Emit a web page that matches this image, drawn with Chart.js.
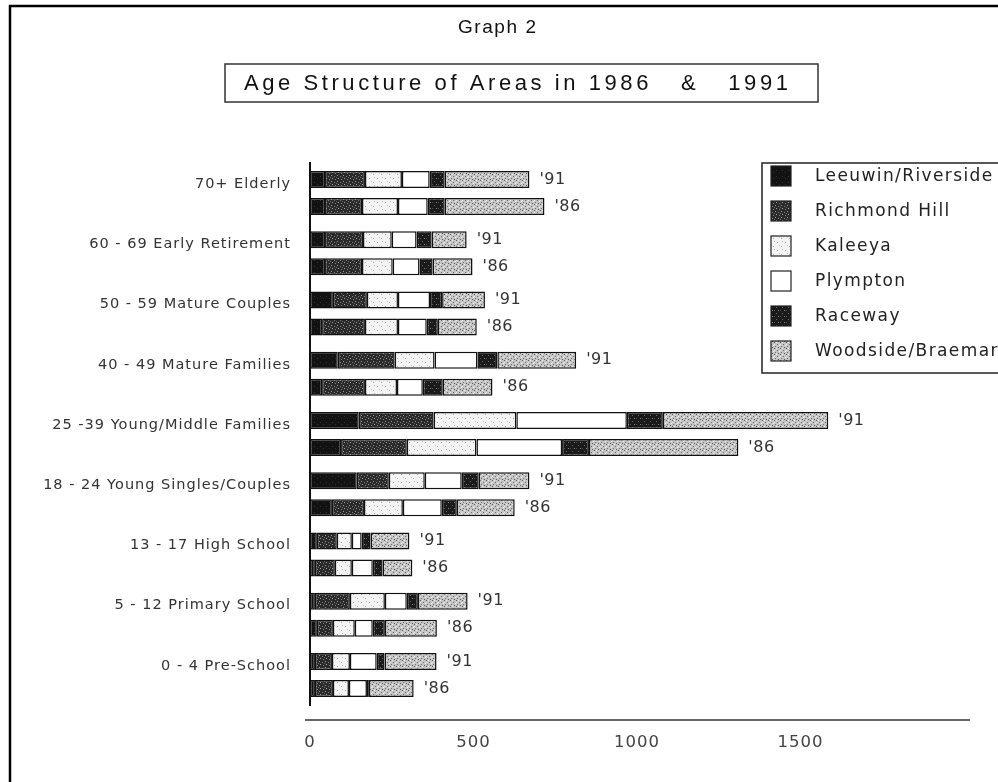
<!DOCTYPE html>
<html><head><meta charset="utf-8">
<script src="https://cdn.jsdelivr.net/npm/chart.js@4.4.1/dist/chart.umd.min.js"></script>
<style>html,body{margin:0;padding:0;background:#fff;}#wrap{width:998px;height:782px;position:relative;}canvas{display:block;}</style>
</head><body><div id="wrap"><canvas id="c" width="998" height="782"></canvas></div>
<script>
// ---- data ----
const categories = ['70+ Elderly', '60 - 69 Early Retirement', '50 - 59 Mature Couples', '40 - 49 Mature Families', '25 -39 Young/Middle Families', '18 - 24 Young Singles/Couples', '13 - 17 High School', '5 - 12 Primary School', '0 - 4 Pre-School'];
const areas = ['Leeuwin/Riverside', 'Richmond Hill', 'Kaleeya', 'Plympton', 'Raceway', 'Woodside/Braemar'];
const yearLabels = ["'91", "'86"];
const xTicks = [0, 500, 1000, 1500];

const leeuwin91  = [46, 46, 70, 85, 149, 143, 21, 15, 15];
const richmond91 = [122, 116, 104, 174, 229, 98, 61, 107, 52];
const kaleeya91  = [113, 88, 95, 122, 253, 110, 46, 107, 55];
const plympton91 = [85, 76, 98, 131, 338, 113, 30, 67, 82];
const raceway91  = [46, 46, 37, 61, 110, 52, 27, 34, 24];
const woodside91 = [259, 107, 131, 241, 506, 155, 119, 152, 159];

const leeuwin86  = [46, 46, 37, 37, 95, 67, 15, 21, 15];
const richmond86 = [113, 113, 131, 131, 201, 98, 61, 49, 55];
const kaleeya86  = [110, 94, 101, 98, 213, 119, 52, 67, 49];
const plympton86 = [91, 82, 88, 79, 262, 119, 64, 55, 55];
const raceway86  = [52, 40, 34, 61, 82, 46, 30, 37, 6];
const woodside86 = [305, 122, 119, 152, 457, 177, 91, 159, 137];

const series91 = [leeuwin91, richmond91, kaleeya91, plympton91, raceway91, woodside91];
const series86 = [leeuwin86, richmond86, kaleeya86, plympton86, raceway86, woodside86];

// ---- fill textures ----
function makePattern(size, base, dots) {
  const c = document.createElement('canvas'); c.width = size; c.height = size;
  const g = c.getContext('2d'); g.fillStyle = base; g.fillRect(0, 0, size, size);
  dots.forEach(d => { g.fillStyle = d[2]; g.fillRect(d[0], d[1], 1, 1); });
  return document.getElementById('c').getContext('2d').createPattern(c, 'repeat');
}
const fills = [
  makePattern(6, '#121212', [[2,2,'#333'],[5,4,'#2c2c2c']]),
  makePattern(6, '#2a2a2a', [[1,1,'#9a9a9a'],[4,2,'#808080'],[2,4,'#a8a8a8'],[5,5,'#858585'],[0,3,'#6a6a6a']]),
  makePattern(8, '#f3f3f3', [[1,2,'#9a9a9a'],[5,6,'#aaaaaa'],[6,1,'#b5b5b5'],[3,5,'#c8c8c8']]),
  '#ffffff',
  makePattern(6, '#1a1a1a', [[2,1,'#6a6a6a'],[4,4,'#808080'],[0,4,'#505050']]),
  makePattern(6, '#c4c4c4', [[0,0,'#5a5a5a'],[3,2,'#6a6a6a'],[1,4,'#707070'],[4,5,'#585858'],[2,0,'#f2f2f2'],[5,3,'#f4f4f4'],[0,2,'#ececec']])
];

const datasets = [];
[series91, series86].forEach((ser, s) => {
  ser.forEach((vals, a) => {
    datasets.push({
      label: areas[a], stack: yearLabels[s], data: vals,
      backgroundColor: fills[a], borderColor: '#111', borderWidth: 1.5, borderSkipped: false,
      barPercentage: 0.63, categoryPercentage: 0.897
    });
  });
});

function fitText(ctx, text, x, y, target, align) {
  ctx.letterSpacing = '0px';
  const w = ctx.measureText(text).width;
  const sp = Math.max(0, (target - w) / Math.max(1, text.length - 1));
  ctx.letterSpacing = sp.toFixed(2) + 'px';
  ctx.textAlign = align || 'left';
  ctx.fillText(text, x, y);
  ctx.letterSpacing = '0px';
}

const decor = {
  id: 'decor',
  beforeDraw(chart) {
    const ctx = chart.ctx; ctx.save();
    ctx.fillStyle = '#fff'; ctx.fillRect(0, 0, chart.width, chart.height);
    // page frame (top and left edges)
    ctx.strokeStyle = '#000'; ctx.lineWidth = 2.5;
    ctx.beginPath(); ctx.moveTo(10, 782); ctx.lineTo(10, 6); ctx.lineTo(998, 6); ctx.stroke();
    // title
    ctx.fillStyle = '#111'; ctx.textBaseline = 'middle';
    ctx.font = '19px "Liberation Sans", Arial, sans-serif';
    fitText(ctx, 'Graph 2', 458, 28, 78, 'left');
    // subtitle box
    ctx.strokeStyle = '#333'; ctx.lineWidth = 1.5;
    ctx.strokeRect(225, 64, 593, 38);
    ctx.font = '22px "Liberation Sans", Arial, sans-serif';
    fitText(ctx, 'Age Structure of Areas in 1986   &   1991', 244, 84, 544, 'left');
    // legend
    ctx.strokeStyle = '#222'; ctx.lineWidth = 1.5;
    ctx.strokeRect(762, 163, 260, 210);
    ctx.font = '17px "DejaVu Sans", sans-serif';
    areas.forEach((a, i) => {
      const cy = 176 + 35 * i;
      ctx.fillStyle = fills[i]; ctx.fillRect(771, cy - 10, 20, 20);
      ctx.strokeStyle = '#222'; ctx.lineWidth = 1.2; ctx.strokeRect(771, cy - 10, 20, 20);
      ctx.fillStyle = '#222'; ctx.textBaseline = 'middle';
      ctx.letterSpacing = '1.4px'; ctx.textAlign = 'left';
      ctx.fillText(a, 815, cy + 1);
      ctx.letterSpacing = '0px';
    });
    ctx.restore();
    // letter spacing used by the library-drawn tick labels
    ctx.letterSpacing = '1px';
  },
  afterDatasetsDraw(chart) {
    const ctx = chart.ctx; ctx.save();
    ctx.letterSpacing = '0.5px';
    ctx.font = '16px "DejaVu Sans", sans-serif'; ctx.fillStyle = '#333';
    ctx.textBaseline = 'middle'; ctx.textAlign = 'left';
    yearLabels.forEach((yl, s) => {
      const meta = chart.getDatasetMeta(s * areas.length + areas.length - 1);
      meta.data.forEach(el => ctx.fillText(yl, el.x + 10, el.y));
    });
    // horizontal value axis line
    const xs = chart.scales.x;
    ctx.strokeStyle = '#333'; ctx.lineWidth = 1.5;
    ctx.beginPath(); ctx.moveTo(xs.getPixelForValue(0) - 5, chart.chartArea.bottom + 15);
    ctx.lineTo(xs.right + 6, chart.chartArea.bottom + 15); ctx.stroke();
    ctx.restore();
  },
  afterDraw(chart) { chart.ctx.letterSpacing = '0px'; }
};

new Chart(document.getElementById('c'), {
  type: 'bar',
  data: { labels: categories, datasets },
  options: {
    indexAxis: 'y', responsive: false, animation: false, devicePixelRatio: 1,
    layout: { padding: { top: 163, right: 34, bottom: 0, left: 0 } },
    plugins: { legend: { display: false }, title: { display: false }, tooltip: { enabled: false } },
    scales: {
      x: {
        type: 'linear', stacked: true, min: 0, max: 2000,
        grid: { display: false, drawTicks: false }, border: { display: false },
        afterBuildTicks(s) { s.ticks = xTicks.map(v => ({ value: v })); },
        ticks: { padding: 28, color: '#444', font: { family: '"DejaVu Sans", sans-serif', size: 16.5 },
                 callback: v => String(v) },
        afterFit(s) { s.height = 77; }
      },
      y: {
        type: 'category',
        grid: { display: false, drawTicks: false },
        border: { display: true, color: '#111', width: 2 },
        ticks: { padding: 19, labelOffset: -9, color: '#333', font: { family: '"DejaVu Sans", sans-serif', size: 14.5 } },
        afterFit(s) { s.width = 310; }
      }
    }
  },
  plugins: [decor]
});
</script></body></html>
